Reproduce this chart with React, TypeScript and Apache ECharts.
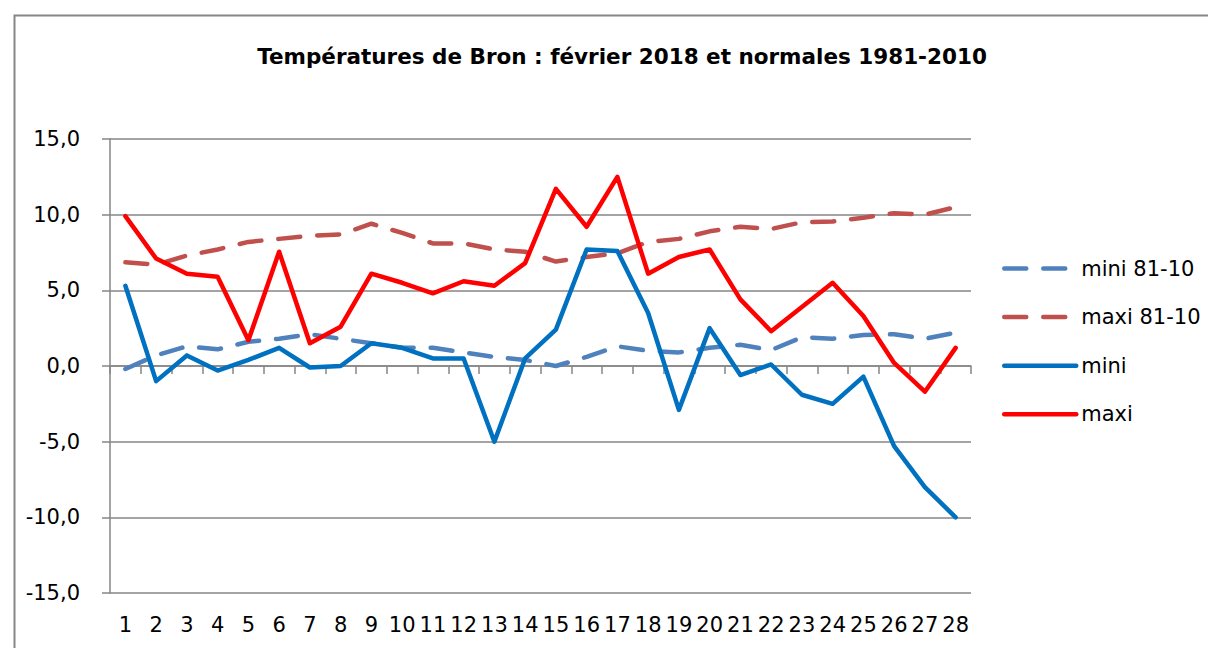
import React, { useEffect, useRef } from "react";
import * as echarts from "echarts";

const days = Array.from({ length: 28 }, (_, i) => String(i + 1));
const miniNorm = [-0.2, 0.7, 1.3, 1.1, 1.6, 1.8, 2.1, 1.8, 1.5, 1.2, 1.2, 0.9, 0.6, 0.4, 0.0, 0.6, 1.3, 1.0, 0.9, 1.2, 1.4, 1.05, 1.9, 1.8, 2.05, 2.1, 1.8, 2.2];
const maxiNorm = [6.85, 6.7, 7.3, 7.7, 8.2, 8.4, 8.6, 8.7, 9.4, 8.8, 8.1, 8.1, 7.7, 7.55, 6.9, 7.2, 7.45, 8.2, 8.4, 8.9, 9.2, 9.05, 9.5, 9.55, 9.8, 10.1, 10.0, 10.5];
const mini = [5.3, -1.0, 0.7, -0.3, 0.4, 1.2, -0.1, 0.0, 1.5, 1.2, 0.5, 0.5, -5.0, 0.5, 2.4, 7.7, 7.6, 3.5, -2.9, 2.5, -0.6, 0.1, -1.9, -2.5, -0.7, -5.3, -8.0, -10.0];
const maxi = [9.9, 7.1, 6.1, 5.9, 1.7, 7.55, 1.5, 2.6, 6.1, 5.5, 4.8, 5.6, 5.3, 6.8, 11.7, 9.2, 12.5, 6.1, 7.2, 7.7, 4.4, 2.3, 3.9, 5.5, 3.3, 0.2, -1.7, 1.2];

const titleText = "Températures de Bron : février 2018 et normales 1981-2010";
const FONT = "DejaVu Sans";
const GRID = "#868686";

export default function App() {
  const ref = useRef<HTMLDivElement>(null);
  useEffect(() => {
    if (!ref.current) return;
    const chart = echarts.init(ref.current, undefined, { renderer: "svg" });
    const dash = [22, 17];
    chart.setOption({
      animation: false,
      backgroundColor: "#ffffff",
      textStyle: { fontFamily: FONT },
      title: {
        text: titleText,
        left: 617,
        textAlign: "center",
        top: 40,
        textStyle: { fontFamily: FONT, fontWeight: "bold", fontSize: 21.5, color: "#000" },
      },
      graphic: [
        {
          type: "rect",
          left: 12,
          top: 13,
          shape: { x: 0, y: 0, width: 1300, height: 700 },
          style: { fill: "none", stroke: GRID, lineWidth: 2 },
          silent: true,
        },
      ],
      legend: {
        orient: "vertical",
        left: 997,
        top: 253,
        itemWidth: 72,
        itemHeight: 20,
        itemGap: 27.6,
        itemStyle: { opacity: 0 },
        lineStyle: { width: 4.5, cap: "round" },
        textStyle: { fontFamily: FONT, fontSize: 21, color: "#000" },
        data: ["mini 81-10", "maxi 81-10", "mini", "maxi"],
      },
      grid: { left: 110, right: 237, top: 139, bottom: 55, containLabel: false },
      xAxis: [
        {
          type: "category",
          data: days,
          position: "bottom",
          boundaryGap: true,
          axisLine: { show: false, onZero: false },
          axisTick: { show: false },
          axisLabel: { fontFamily: FONT, fontSize: 21, color: "#000", margin: 21, interval: 0 },
          splitLine: { show: false },
        },
        {
          type: "category",
          data: days,
          position: "bottom",
          boundaryGap: true,
          axisLine: { show: true, onZero: true, onZeroAxisIndex: 0, lineStyle: { color: GRID, width: 1.5 } },
          axisTick: { show: true, length: 8, interval: 0, lineStyle: { color: GRID, width: 1.5 } },
          axisLabel: { show: false },
          splitLine: { show: false },
        },
      ],
      yAxis: {
        type: "value",
        min: -15,
        max: 15,
        interval: 5,
        axisLine: { show: true, lineStyle: { color: GRID, width: 1.5 } },
        axisTick: { show: true, length: 8, lineStyle: { color: GRID, width: 1.5 } },
        axisLabel: {
          fontFamily: FONT,
          fontSize: 21,
          color: "#000",
          margin: 30,
          formatter: (v: number) => v.toFixed(1).replace(".", ","),
        },
        splitLine: { show: true, lineStyle: { color: GRID, width: 1.5 } },
      },
      series: [
        {
          name: "mini 81-10",
          type: "line",
          data: miniNorm,
          symbol: "none",
          itemStyle: { color: "#4F81BD" },
          lineStyle: { color: "#4F81BD", width: 4.5, type: dash, cap: "round" },
        },
        {
          name: "maxi 81-10",
          type: "line",
          data: maxiNorm,
          symbol: "none",
          itemStyle: { color: "#C0504D" },
          lineStyle: { color: "#C0504D", width: 4.5, type: dash, cap: "round" },
        },
        {
          name: "mini",
          type: "line",
          data: mini,
          symbol: "none",
          itemStyle: { color: "#0070C0" },
          lineStyle: { color: "#0070C0", width: 4.5, cap: "round", join: "round" },
        },
        {
          name: "maxi",
          type: "line",
          data: maxi,
          symbol: "none",
          itemStyle: { color: "#FF0000" },
          lineStyle: { color: "#FF0000", width: 4.5, cap: "round", join: "round" },
        },
      ],
    });
    return () => chart.dispose();
  }, []);
  return (
    <div
      ref={ref}
      style={{ position: "absolute", left: 0, top: 0, width: 1208, height: 648 }}
    />
  );
}
